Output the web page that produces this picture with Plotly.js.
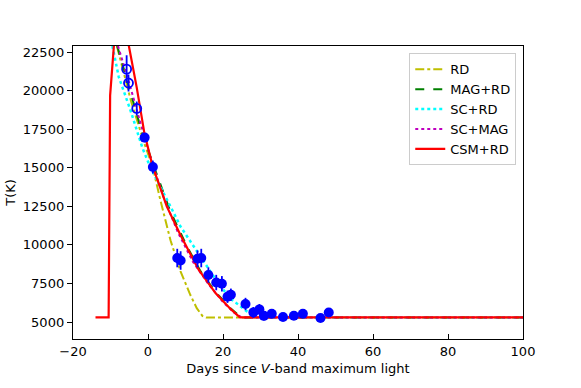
<!DOCTYPE html>
<html>
<head>
<meta charset="utf-8">
<script src="https://cdn.plot.ly/plotly-3.0.1.min.js"></script>
<style>
  body { margin: 0; background: #ffffff; }
  #plot { width: 581px; height: 388px; }
</style>
</head>
<body>
<div id="plot"></div>
<script>
// observed temperatures (days since V max, T in K, error)
var obs_open_x = [-5.7, -5.2, -3.0];
var obs_open_y = [21400, 20500, 18850];
var obs_open_err = [900, 550, 450];

var obs_x = [-0.9, 1.3, 7.8, 8.7, 13.2, 14.2, 16.1, 18.2, 19.7, 21.2, 22.1,
             26.0, 28.1, 29.7, 30.9, 33.0, 36.0, 38.9, 41.3, 46.0, 48.2];
var obs_y = [16960, 15050, 9150, 8990, 9100, 9150, 8050, 7560, 7480, 6640, 6770,
             6170, 5625, 5820, 5400, 5540, 5324, 5410, 5540, 5260, 5622];
var obs_err = [300, 420, 600, 600, 550, 600, 500, 500, 500, 400, 400,
               400, 350, 350, 300, 300, 250, 250, 250, 250, 250];

// model curves
var rd_x = [-8.3, -4.5, -1, 1.3, 3.3, 6, 8.65, 11.3, 13, 14.5, 15.5, 100];
var rd_y = [22900, 19300, 16600, 15000, 12900, 10300, 8300, 6750, 5900, 5400, 5300, 5300];

var magrd_x = [-8.2, -6, -4, -1.6, 2, 6, 10.4, 14, 18, 22, 24.8, 100];
var magrd_y = [22900, 21000, 19400, 17300, 14800, 12150, 9900, 8300, 6950, 5900, 5300, 5300];

var scrd_x = [-9.5, -7.8, -4.7, -1.5, 0.5, 3.8, 5.1, 6.9, 8.65, 12.2, 15.8, 19.3, 22.4, 26.4, 29, 100];
var scrd_y = [22900, 20900, 18750, 16300, 15100, 13580, 12930, 12060, 11200, 9900, 8600, 7307, 6445, 5690, 5300, 5300];

var scmag_x = [-8, -5, -2, 1, 4, 8, 12, 16, 20, 23, 25, 100];
var scmag_y = [22900, 20500, 17900, 15400, 13200, 10800, 8900, 7500, 6300, 5600, 5300, 5300];

var csm_x = [-14, -10.5, -10.1, -9.1, -7.5, -5.1, -3, -1, 0, 1.3, 3, 5, 8.65, 10, 13.5, 18, 22, 24.5, 100];
var csm_y = [5300, 5300, 19700, 22900, 25000, 22900, 20200, 17300, 16300, 15050, 13900, 12500, 10640, 10000, 8390, 6880, 5850, 5300, 5300];

var x_ticks = [-20, 0, 20, 40, 60, 80, 100];
var y_ticks = [5000, 7500, 10000, 12500, 15000, 17500, 20000, 22500];

var data = [
    {name: 'RD', x: rd_x, y: rd_y, type: 'scatter', mode: 'lines',
     line: {color: '#bfbf00', width: 2, dash: 'dashdot'}},
    {name: 'MAG+RD', x: magrd_x, y: magrd_y, type: 'scatter', mode: 'lines',
     line: {color: '#008000', width: 2, dash: 'dash'}},
    {name: 'SC+RD', x: scrd_x, y: scrd_y, type: 'scatter', mode: 'lines',
     line: {color: '#00ffff', width: 2.5, dash: 'dot'}},
    {name: 'SC+MAG', x: scmag_x, y: scmag_y, type: 'scatter', mode: 'lines',
     line: {color: '#bf00bf', width: 2, dash: 'dot'}},
    {name: 'CSM+RD', x: csm_x, y: csm_y, type: 'scatter', mode: 'lines',
     line: {color: '#ff0000', width: 2.2}},
    {x: obs_open_x, y: obs_open_y, type: 'scatter', mode: 'markers', showlegend: false,
     marker: {symbol: 'circle-open', color: '#0000ff', size: 9, line: {width: 1.8}},
     error_y: {type: 'data', array: obs_open_err, color: '#0000ff', thickness: 1.8, width: 0}},
    {x: obs_x, y: obs_y, type: 'scatter', mode: 'markers', showlegend: false,
     marker: {color: '#0000ff', size: 10},
     error_y: {type: 'data', array: obs_err, color: '#0000ff', thickness: 1.8, width: 0}}
];

var layout = {
    width: 581,
    height: 388,
    margin: {l: 73, r: 58, t: 46, b: 49, pad: 0},
    paper_bgcolor: '#ffffff',
    plot_bgcolor: '#ffffff',
    font: {family: 'DejaVu Sans', size: 13, color: '#000000'},
    showlegend: true,
    legend: {
        x: 0.985, xanchor: 'right', y: 0.975, yanchor: 'top',
        bgcolor: '#ffffff', bordercolor: '#cccccc', borderwidth: 1,
        font: {family: 'DejaVu Sans', size: 13},
        itemwidth: 30, tracegroupgap: 0
    },
    xaxis: {
        range: [-20, 100],
        tickvals: x_ticks,
        ticktext: x_ticks.map(function(v){ return v < 0 ? '\u2212' + Math.abs(v) : String(v); }),
        ticks: 'inside', ticklen: 5, tickwidth: 1, tickcolor: '#000000',
        tickfont: {size: 13},
        showgrid: false, zeroline: false,
        showline: true, linecolor: '#000000', linewidth: 1.2, mirror: true,
        title: {text: 'Days since <i>V</i>-band maximum light', font: {size: 13}, standoff: 6}
    },
    yaxis: {
        range: [3900, 22900],
        tickvals: y_ticks,
        ticktext: y_ticks.map(String),
        ticks: 'outside', ticklen: 5, tickwidth: 1, tickcolor: '#000000',
        tickfont: {size: 13},
        showgrid: false, zeroline: false,
        showline: true, linecolor: '#000000', linewidth: 1.2, mirror: true,
        title: {text: 'T(K)', font: {size: 13}, standoff: 4}
    }
};

Plotly.newPlot('plot', data, layout, {displayModeBar: false, staticPlot: true});
</script>
</body>
</html>
